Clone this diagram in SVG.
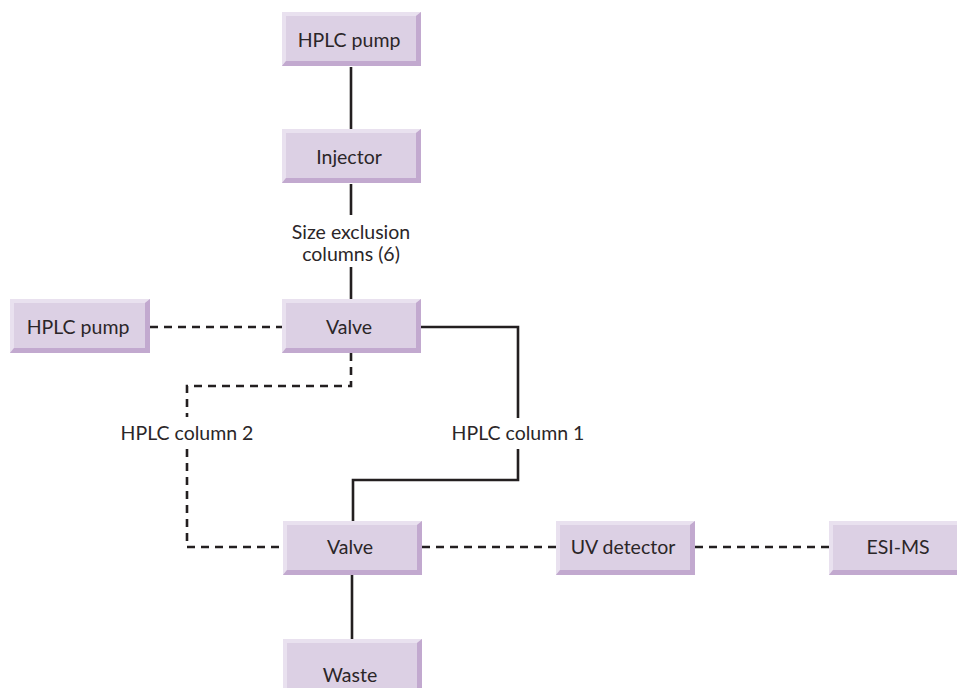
<svg xmlns="http://www.w3.org/2000/svg" xmlns:xlink="http://www.w3.org/1999/xlink" width="957" height="688" viewBox="0 0 957 688">
<style>
.lbl{font-family:Lato,"Open Sans","Liberation Sans",sans-serif;font-size:19.5px;fill:#2b2628;text-anchor:middle}
.solid{fill:none;stroke:#231f20;stroke-width:2.6}
.dash{fill:none;stroke:#231f20;stroke-width:2.6;stroke-dasharray:8 6}
.face{fill:#dcd0e4}
.hi{fill:#e9e1ef}
.lo{fill:#c2a9cf}
</style>
<defs>
<g id="box">
<rect class="face" x="0" y="0" width="139" height="54"/>
<polygon class="hi" points="0,0 139,0 134,4 4,4 4,49 0,54"/>
<polygon class="lo" points="139,0 139,54 0,54 4,49 134,49 134,4"/>
</g>
<g id="boxw">
<rect class="face" x="0" y="0" width="140" height="54"/>
<polygon class="hi" points="0,0 140,0 135,4 4,4 4,49 0,54"/>
<polygon class="lo" points="140,0 140,54 0,54 4,49 135,49 135,4"/>
</g>
</defs>
<rect width="957" height="688" fill="#ffffff"/>
<g id="connectors">
<path class="solid" d="M351,67 V129"/>
<path class="solid" d="M351,184 V215 M351,267 V299"/>
<path class="dash" d="M150,327 H282"/>
<path class="solid" d="M421,327 H518 V418 M518,449 V480 H353 V521"/>
<path class="dash" d="M351,353 V386 H187 V417 M187,449 V547 H283"/>
<path class="dash" d="M422,547 H556"/>
<path class="dash" d="M695,547 H829"/>
<path class="solid" d="M352,575 V639"/>
<text class="lbl" x="351" y="239">Size exclusion</text>
<text class="lbl" x="351" y="261">columns (6)</text>
<text class="lbl" x="518" y="440">HPLC column 1</text>
<text class="lbl" x="187" y="440">HPLC column 2</text>
</g>
<g id="pump1"><use xlink:href="#box" x="282" y="12"/><text class="lbl" x="349" y="47">HPLC pump</text></g>
<g id="injector"><use xlink:href="#box" x="282" y="129"/><text class="lbl" x="349" y="164">Injector</text></g>
<g id="pump2"><use xlink:href="#boxw" x="10" y="299"/><text class="lbl" x="78" y="334">HPLC pump</text></g>
<g id="valve1"><use xlink:href="#box" x="282" y="299"/><text class="lbl" x="349" y="334">Valve</text></g>
<g id="valve2"><use xlink:href="#box" x="283" y="521"/><text class="lbl" x="350" y="554">Valve</text></g>
<g id="uv"><use xlink:href="#box" x="556" y="521"/><text class="lbl" x="623" y="554">UV detector</text></g>
<g id="esims"><use xlink:href="#box" x="829" y="521"/><text class="lbl" x="898" y="554">ESI-MS</text></g>
<g id="waste"><use xlink:href="#box" x="283" y="639"/><text class="lbl" x="350" y="682">Waste</text></g>
</svg>
